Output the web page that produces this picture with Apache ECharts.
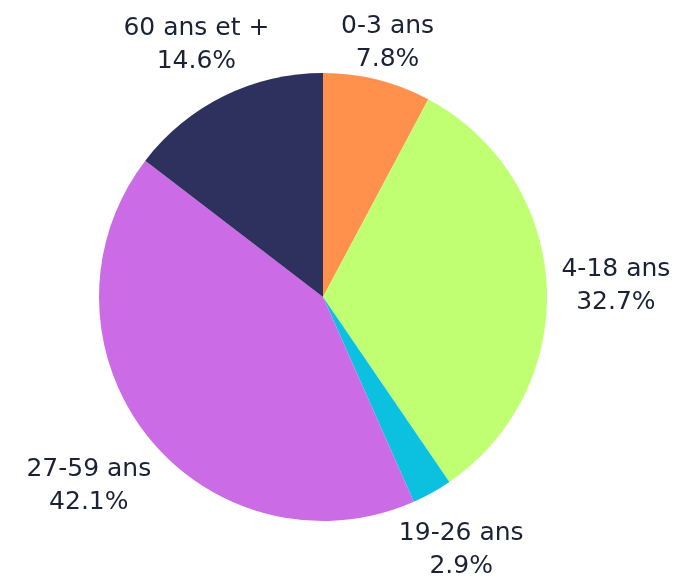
<!DOCTYPE html>
<html><head><meta charset="utf-8">
<script src="https://cdn.jsdelivr.net/npm/echarts@6/dist/echarts.min.js"></script>
<style>html,body{margin:0;padding:0;background:#fff}#c{width:684px;height:584px}</style>
</head><body><div id="c"></div>
<script>
const categories = ['0-3 ans', '4-18 ans', '19-26 ans', '27-59 ans', '60 ans et +'];
const values = [7.8, 32.7, 2.9, 42.1, 14.6];
const colors = ['#FF914D', '#C1FF72', '#0CC0DF', '#CB6CE6', '#2E315E'];

const CX = 323, CY = 297, R = 224, GAP = 14;
const total = values.reduce((a, b) => a + b, 0);
function midAngle(i) {
  let s = 0;
  for (let k = 0; k < i; k++) s += values[k];
  return (s + values[i] / 2) / total * 2 * Math.PI;
}
const chart = echarts.init(document.getElementById('c'), null, {renderer: 'canvas'});
chart.setOption({
  backgroundColor: '#ffffff',
  animation: false,
  series: [{
    type: 'pie',
    center: [CX, CY],
    radius: R,
    startAngle: 90,
    clockwise: true,
    data: categories.map((c, i) => ({name: c, value: values[i], itemStyle: {color: colors[i]}})),
    label: {
      show: true,
      position: 'outside',
      formatter: p => p.name + '\n' + p.value.toFixed(1) + '%',
      color: '#1B2235',
      fontFamily: 'DejaVu Sans',
      fontSize: 25,
      lineHeight: 33,
      align: 'center',
      overflow: 'none'
    },
    labelLine: {show: false},
    labelLayout: function (params) {
      const a = midAngle(params.dataIndex);
      const dx = Math.sin(a), dy = -Math.cos(a);
      const w = params.labelRect.width, h = params.labelRect.height;
      const ext = Math.abs(dx) * w / 2 + Math.abs(dy) * h * 0.27;
      const d = R + GAP + ext;
      return {x: CX + dx * d, y: CY + dy * d + 5, align: 'center', verticalAlign: 'middle'};
    }
  }]
});
</script></body></html>
